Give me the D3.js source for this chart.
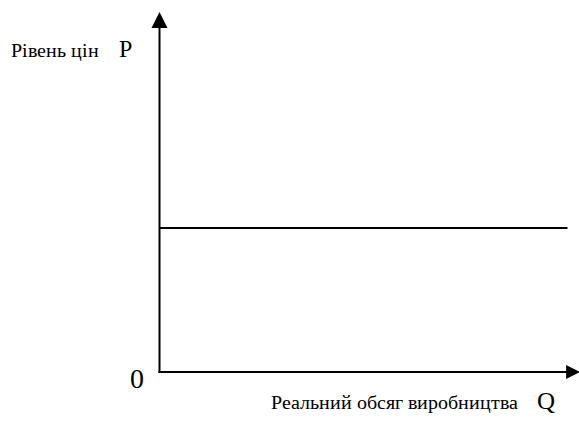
<!DOCTYPE html>
<html>
<head>
<meta charset="utf-8">
<script src="https://cdn.jsdelivr.net/npm/d3@7"></script>
<style>
  @font-face {
    font-family: "SerifCyr";
    src: local("Liberation Serif"), local("LiberationSerif"), local("LiberationSerif-Regular"), local("Times New Roman");
  }
  body { margin: 0; background: #fff; }
</style>
</head>
<body>
<div id="chart"></div>
<script>
// values (relative units)
var axisLabels = ["Рівень цін", "P", "Реальний обсяг виробництва", "Q", "0"];
var priceLevel = [40];          // horizontal aggregate supply line, P level
var outputRange = [0, 97];      // Q from / to for that line

var width = 579, height = 421;
var margin = { top: 12, right: 0, bottom: 49, left: 159.5 };
var serif = "SerifCyr, 'Liberation Serif', 'Times New Roman'";

var svg = d3.select("#chart").append("svg")
    .attr("width", width)
    .attr("height", height);

var xScale = d3.scaleLinear().domain([0, 100]).range([margin.left, margin.left + 420.6]);
var yScale = d3.scaleLinear().domain([0, 100]).range([height - margin.bottom, margin.top]);

var x0 = xScale(0), y0 = yScale(0);

// y axis with arrow
svg.append("line")
    .attr("x1", x0).attr("y1", y0 + 1)
    .attr("x2", x0).attr("y2", yScale(100) + 12)
    .style("stroke", "#000").style("stroke-width", 2);
svg.append("path")
    .attr("d", "M" + x0 + "," + yScale(100) + "L" + (x0 - 8) + "," + (yScale(100) + 16) +
          "L" + (x0 + 8) + "," + (yScale(100) + 16) + "Z")
    .style("fill", "#000");

// x axis with arrow
var xEnd = xScale(100);
svg.append("line")
    .attr("x1", x0 - 1).attr("y1", y0)
    .attr("x2", xEnd - 12).attr("y2", y0)
    .style("stroke", "#000").style("stroke-width", 2);
svg.append("path")
    .attr("d", "M" + xEnd + "," + y0 + "L" + (xEnd - 14) + "," + (y0 - 7) +
          "L" + (xEnd - 14) + "," + (y0 + 7) + "Z")
    .style("fill", "#000");

// horizontal line
priceLevel.forEach(function (p) {
    svg.append("line")
        .attr("x1", xScale(outputRange[0])).attr("y1", yScale(p))
        .attr("x2", xScale(outputRange[1])).attr("y2", yScale(p))
        .style("stroke", "#000").style("stroke-width", 2);
});

// labels
function label(x, y, size, s) {
    svg.append("text").attr("x", x).attr("y", y)
        .style("font-family", serif)
        .style("font-size", size + "px")
        .style("fill", "#000")
        .text(s);
}
label(11, 57, 19.5, axisLabels[0]);
label(119, 57, 24, axisLabels[1]);
label(271, 409, 19.5, axisLabels[2]);
label(537, 409, 25, axisLabels[3]);
label(130, 388, 28, axisLabels[4]);
</script>
</body>
</html>
